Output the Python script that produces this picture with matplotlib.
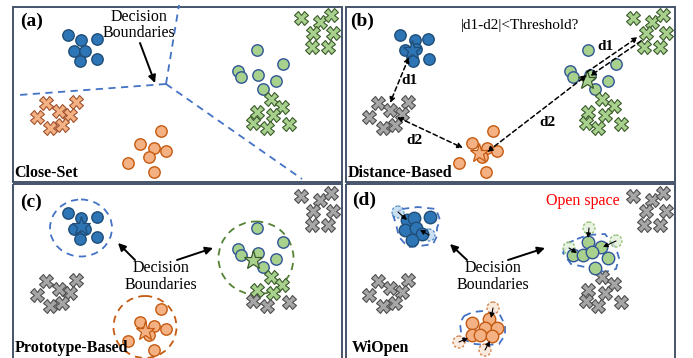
import matplotlib
matplotlib.use("Agg")
import matplotlib.pyplot as plt
import matplotlib.patches as patches

plt.rcParams['font.family'] = ['Liberation Serif', 'DejaVu Serif']

# cluster layouts in pixel coordinates (x, y), y grows downward
# left column (panels a / c)
left_blue = [(68, 35), (81, 40), (97, 39), (74, 51), (85, 51), (80, 61), (97, 59)]
left_green = [(257, 50), (283, 64), (238, 71), (241, 77), (258, 75), (276, 81), (263, 89)]
left_green_x_low = [(271, 99), (282, 107), (257, 112), (273, 115), (253, 123), (267, 128), (289, 124)]
left_x_top = [(301, 18), (320, 22), (331, 15), (313, 33), (333, 33), (312, 47), (328, 47)]
left_x_mid = [(46, 103), (76, 102), (59, 111), (70, 115), (37, 117), (62, 125), (50, 128)]
left_orange = [(161, 131), (140, 144), (154, 148), (166, 151), (149, 157), (128, 163), (154, 172)]

# right column (panels b / d)
right_blue = [(400, 35), (415, 40), (428, 39), (405, 50), (416, 49), (413, 61), (429, 59)]
right_gray = [(378, 103), (408, 102), (390, 110), (402, 114), (369, 117), (395, 125), (383, 128)]
right_orange = [(493, 131), (472, 143), (487, 148), (497, 151), (482, 157), (459, 163), (486, 172)]
right_green = [(588, 50), (616, 64), (570, 71), (573, 77), (590, 75), (608, 81), (595, 89)]
right_x_low = [(602, 99), (614, 106), (588, 112), (605, 115), (586, 123), (598, 128), (621, 124)]
right_x_top = [(633, 18), (652, 22), (663, 15), (646, 33), (666, 33), (644, 47), (660, 47)]

# prototypes (stars)
b_stars = {'blue': (412, 50), 'orange': (479, 153), 'green': (587, 80)}
c_stars = {'blue': (81, 226), 'orange': (145, 331), 'green': (253, 260)}

# panel (a) boundary lines
a_bound_center = (166, 84)
a_bound_ends = [(19, 95), (179, 5), (302, 179)]

# panel (b) distance arrows
b_arrows = [((409, 57), (390, 103)), ((397, 117), (463, 148)), ((487, 152), (587, 75))]
b_labels = [("d1", 410, 80), ("d2", 414, 140), ("d2", 547, 123), ("d1", 606, 47)]

# panel (c) boundary circles: center, width, height
c_circles = {'blue': ((81, 228), 62, 57), 'orange': ((145, 327), 63, 62), 'green': ((256, 258), 75, 73)}

# panel (d) compacted clusters
d_blue = [(407, 220), (414, 218), (430, 217), (405, 230), (416, 228), (422, 234), (412, 240)]
d_blue_faded = [(398, 212), (429, 235)]
d_blue_moves = [((398, 212), (407, 220)), ((429, 235), (420, 230))]
d_blue_bound = [(402, 209), (418, 207), (436, 209), (440, 220), (437, 228), (437, 236), (433, 244),
                (420, 246), (408, 247), (399, 237), (396, 224), (393, 215)]
d_green = [(588, 242), (601, 247), (573, 255), (583, 255), (592, 252), (608, 258), (595, 268)]
d_green_faded = [(589, 228), (616, 241), (569, 248)]
d_green_moves = [((589, 228), (588, 238)), ((616, 241), (603, 247)), ((569, 248), (577, 253))]
d_green_bound = [(577, 239), (588, 235), (605, 234), (616, 248), (619, 258), (616, 269), (605, 272),
                 (597, 270), (585, 267), (571, 264), (563, 253), (566, 244)]
d_orange = [(472, 323), (489, 319), (485, 328), (497, 328), (472, 335), (480, 335), (492, 336)]
d_orange_faded = [(493, 308), (459, 342), (485, 350)]
d_orange_moves = [((493, 308), (491, 318)), ((459, 342), (468, 338)), ((485, 350), (490, 341))]
d_orange_bound = [(464, 316), (473, 312), (483, 311), (499, 313), (505, 325), (505, 335), (499, 344),
                  (487, 345), (475, 344), (465, 340), (461, 332), (460, 323)]

ROW = 178  # vertical offset between top and bottom rows

BLUE = ('#2E75B6', '#1F4E79')
GREEN = ('#A9D18E', '#2F5597')
GREEN_X = ('#A9D18E', '#3A5A2A')
ORANGE = ('#F4B183', '#C55A11')
ORANGE_X = ('#F4B183', '#A0522D')
GRAY = ('#A6A6A6', '#4D4D4D')
LINE_BLUE = '#4472C4'

fig = plt.figure(figsize=(6.93, 3.58), dpi=100)
ax = fig.add_axes([0, 0, 1, 1])
ax.set_xlim(0, 693)
ax.set_ylim(358, 0)
ax.axis('off')


def circles(pts, col, dy=0, ms=8.2, z=3):
    ax.plot([p[0] for p in pts], [p[1] + dy for p in pts], 'o', ms=ms, mfc=col[0], mec=col[1],
            mew=1.0, ls='none', zorder=z)


def crosses(pts, col, dy=0):
    ax.plot([p[0] for p in pts], [p[1] + dy for p in pts], 'X', ms=9.5, mfc=col[0], mec=col[1],
            mew=0.8, ls='none', zorder=3)


def star(pt, col):
    ax.plot(pt[0], pt[1], '*', ms=14, mfc=col[0], mec=col[1], mew=0.9, zorder=4)


def faded(pts, fc, ec):
    for p in pts:
        ax.add_patch(patches.Circle(p, 6, fc=fc, ec=ec, lw=0.9, ls=(0, (2, 1.5)), alpha=0.8, zorder=3))


def small_arrows(moves):
    for a, b in moves:
        ax.annotate('', xy=b, xytext=a, arrowprops=dict(arrowstyle='-|>', color='k', lw=0.8,
                    mutation_scale=7, shrinkA=0, shrinkB=0), zorder=5)


def big_arrow(a, b):
    ax.annotate('', xy=b, xytext=a, arrowprops=dict(arrowstyle='-|>', color='k', lw=1.4,
                mutation_scale=11, shrinkA=0, shrinkB=0), zorder=5)


# panel frames
frame = '#44546A'
for x0, y0, x1, y1 in [(13, 7, 342, 182), (346, 7, 675, 182), (13, 184, 342, 370), (346, 184, 675, 370)]:
    ax.add_patch(patches.Rectangle((x0, y0), x1 - x0, y1 - y0, fill=False, ec=frame, lw=1.4, zorder=1))

# ---- (a) Close-Set
circles(left_blue, BLUE)
circles(left_green, GREEN)
crosses(left_green_x_low, GREEN_X)
crosses(left_x_top, GREEN_X)
crosses(left_x_mid, ORANGE_X)
circles(left_orange, ORANGE)
for e in a_bound_ends:
    ax.plot([a_bound_center[0], e[0]], [a_bound_center[1], e[1]], ls=(0, (4, 3)), color=LINE_BLUE,
            lw=1.3, zorder=2)
big_arrow((140, 43), (155, 83))
ax.text(139, 17, "Decision", ha='center', va='center', fontsize=11.5)
ax.text(139, 33, "Boundaries", ha='center', va='center', fontsize=11.5)

# ---- (b) Distance-Based
circles(right_blue, BLUE)
crosses(right_gray, GRAY)
circles(right_orange, ORANGE)
circles(right_green, GREEN)
crosses(right_x_low, GREEN_X)
crosses(right_x_top, GREEN_X)
star(b_stars['blue'], BLUE)
star(b_stars['orange'], ORANGE)
star(b_stars['green'], GREEN_X)
for a, b in b_arrows:
    ax.annotate('', xy=b, xytext=a, arrowprops=dict(arrowstyle='<|-|>', color='k', lw=1.1, ls=(0, (3, 2)),
                mutation_scale=8, shrinkA=0, shrinkB=0), zorder=5)
ax.annotate('', xy=(638, 37), xytext=(587, 72), arrowprops=dict(arrowstyle='-|>', color='k', lw=1.1,
            ls=(0, (3, 2)), mutation_scale=8, shrinkA=0, shrinkB=0), zorder=5)
ax.annotate('', xy=(590, 76), xytext=(641, 41), arrowprops=dict(arrowstyle='-|>', color='k', lw=1.1,
            ls=(0, (3, 2)), mutation_scale=8, shrinkA=0, shrinkB=0), zorder=5)
for s, x, y in b_labels:
    ax.text(x, y, s, ha='center', va='center', fontsize=11, fontweight='bold')
ax.text(520, 25, "|d1-d2|<Threshold?", ha='center', va='center', fontsize=11)

# ---- (c) Prototype-Based
circles(left_blue, BLUE, ROW)
circles(left_green, GREEN, ROW)
crosses(left_green_x_low[:4], GREEN_X, ROW)
crosses(left_green_x_low[4:], GRAY, ROW)
crosses(left_x_top, GRAY, ROW)
crosses(left_x_mid, GRAY, ROW)
circles(left_orange, ORANGE, ROW)
star(c_stars['blue'], BLUE)
star(c_stars['orange'], ORANGE)
star(c_stars['green'], GREEN_X)
for key, col in [('blue', LINE_BLUE), ('orange', '#C55A11'), ('green', '#548235')]:
    (cx, cy), w, h = c_circles[key]
    ax.add_patch(patches.Ellipse((cx, cy), w, h, fill=False, ec=col, lw=1.3, ls=(0, (4, 3)), zorder=2))
big_arrow((135, 260), (118, 243))
big_arrow((177, 260), (213, 248))
ax.text(161, 268, "Decision", ha='center', va='center', fontsize=11.5)
ax.text(161, 285, "Boundaries", ha='center', va='center', fontsize=11.5)

# ---- (d) WiOpen
crosses(right_gray, GRAY, ROW)
crosses(right_x_low, GRAY, ROW)
crosses(right_x_top, GRAY, ROW)
for pts, fad, bound, moves, col, fcol in [
        (d_blue, d_blue_faded, d_blue_bound, d_blue_moves, BLUE, ('#BDD7EE', '#2E75B6')),
        (d_green, d_green_faded, d_green_bound, d_green_moves, GREEN, ('#E2F0D9', '#70AD47')),
        (d_orange, d_orange_faded, d_orange_bound, d_orange_moves, ORANGE, ('#FBE5D6', '#C55A11'))]:
    ax.add_patch(patches.Polygon(bound, closed=True, fill=False, ec=LINE_BLUE, lw=1.3,
                                 ls=(0, (4, 3)), zorder=2))
    faded(fad, fcol[0], fcol[1])
    circles(pts, col, ms=9)
    small_arrows(moves)
big_arrow((467, 260), (450, 244))
big_arrow((508, 260), (545, 248))
ax.text(493, 268, "Decision", ha='center', va='center', fontsize=11.5)
ax.text(493, 285, "Boundaries", ha='center', va='center', fontsize=11.5)
ax.text(583, 201, "Open space", ha='center', va='center', fontsize=11.5, color='#FF0000')

# panel tags and names
for s, x, y in [("(a)", 20, 21), ("(b)", 350, 21), ("(c)", 20, 202), ("(d)", 352, 200)]:
    ax.text(x, y, s, ha='left', va='center', fontsize=14, fontweight='bold')
for s, x, y in [("Close-Set", 14, 173), ("Distance-Based", 348, 173),
                ("Prototype-Based", 15, 348), ("WiOpen", 352, 348)]:
    ax.text(x, y, s, ha='left', va='center', fontsize=11.5, fontweight='bold', zorder=6)

fig.savefig("out.png", dpi=100)
